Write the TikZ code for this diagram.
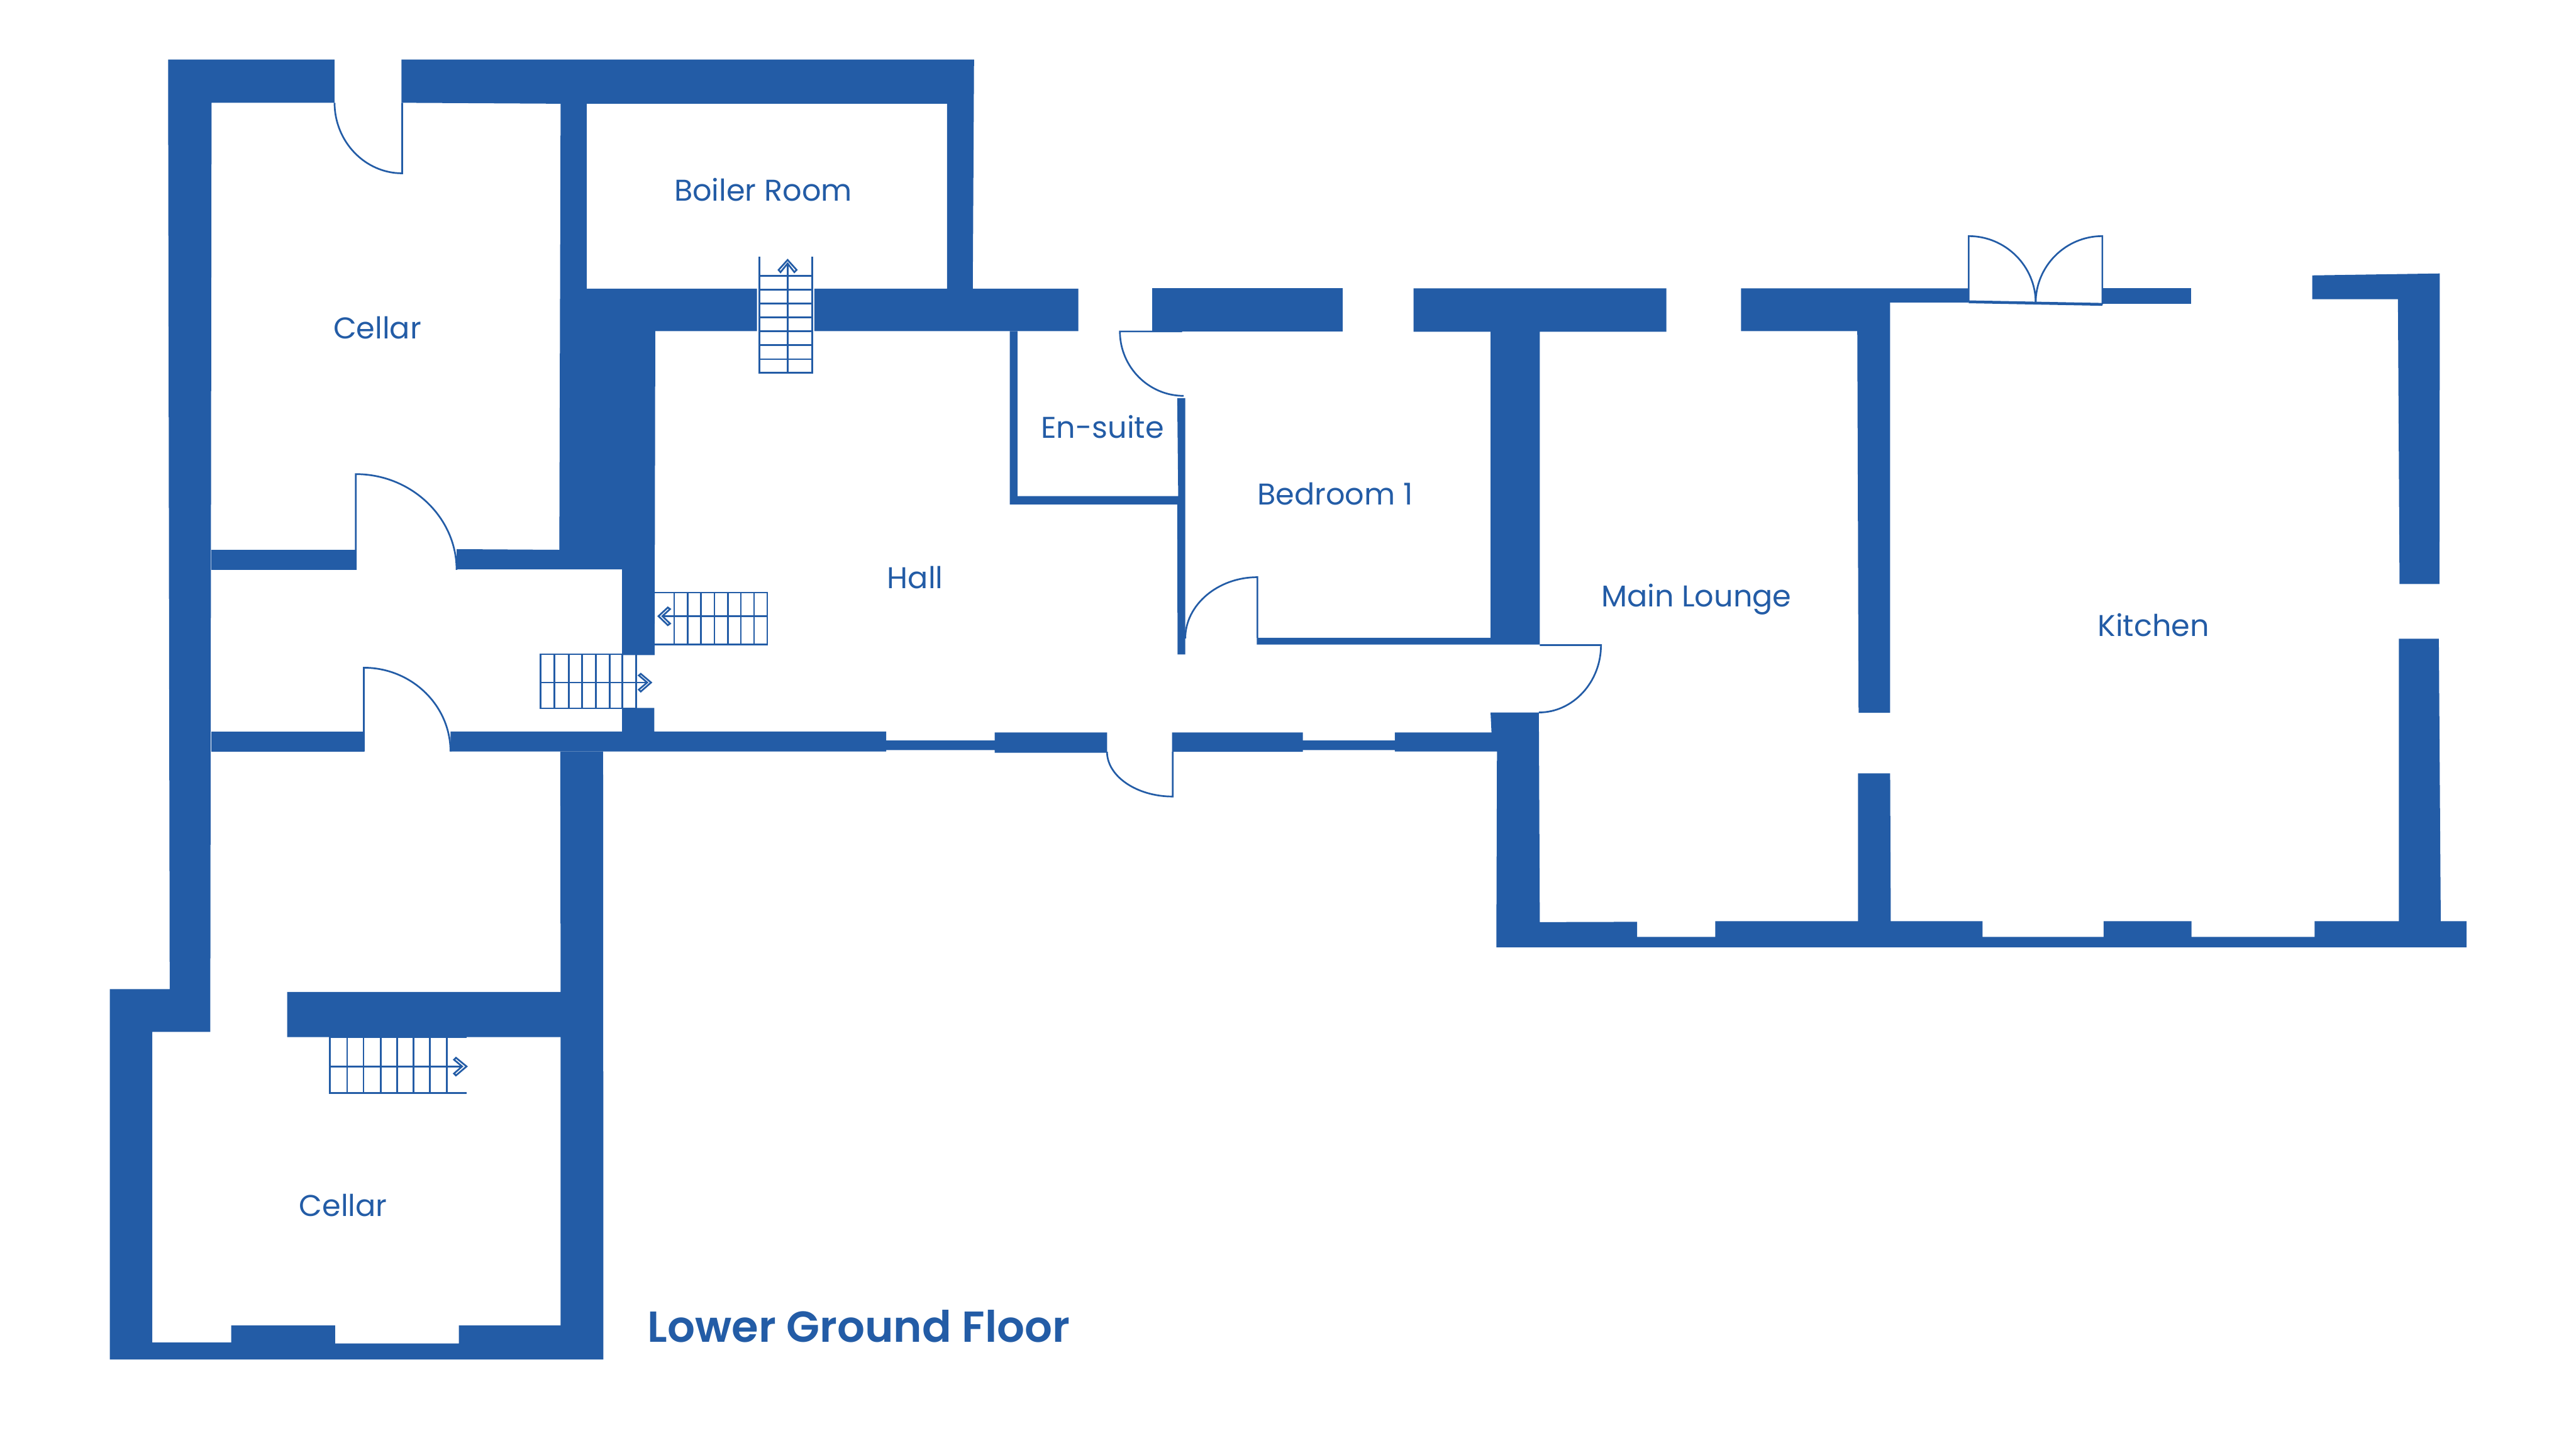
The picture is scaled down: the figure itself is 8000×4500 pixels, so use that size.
\documentclass[tikz,border=0pt]{standalone}
\usepackage{fontspec}
\setmainfont{Poppins}
\newfontfamily\titlefont{Poppins SemiBold}
\definecolor{wallblue}{RGB}{35,92,166}
\tikzset{
    wall/.style={fill=wallblue},
    doorline/.style={draw=wallblue, line width=0.3pt},
    stairline/.style={draw=wallblue, line width=0.3pt},
    roomlabel/.style={text=wallblue, font=\fontsize{5.3}{6}\selectfont, anchor=base, inner sep=0pt},
    floorlabel/.style={text=wallblue, font=\fontsize{7.66}{9}\selectfont\titlefont, anchor=base west, inner sep=0pt}
}
\begin{document}
\begin{tikzpicture}[x=0.002cm, y=-0.002cm]
    \useasboundingbox (0, 0) rectangle (8000, 4500);
    % walls
    \fill[wall] (522, 185) to (1039, 185) to (1039, 319) to (657, 319) to (653, 3204) to (473, 3204) to (473, 4168) to (718, 4168) to (718, 4115) to (1041, 4115) to (1041, 4171) to (1425, 4171) to (1425, 4115) to (1741, 4115) to (1741, 3220) to (892, 3220) to (892, 3080) to (1741, 3080) to (1740, 2333) to (1873, 2333) to (1874, 4221) to (341, 4221) to (341, 3071) to (527, 3071) -- cycle;
    \fill[wall] (1247, 185) to (3025, 185) to (3021, 896) to (3349, 896) to (3349, 1028) to (2529, 1028) to (2529, 896) to (2941, 896) to (2941, 322) to (1822, 322) to (1822, 896) to (2351, 896) to (2351, 1028) to (2035, 1028) to (2033, 2034) to (1932, 2034) to (1932, 1768) to (1418, 1768) to (1418, 1705) to (1737, 1707) to (1741, 322) to (1247, 319) -- cycle;
    \fill[wall] (656, 1707) rectangle (1106, 1769);
    \fill[wall] (656, 2271) rectangle (1131, 2333);
    \fill[wall] (1399, 2271) to (1932, 2271) to (1932, 2198) to (2032, 2198) to (2032, 2271) to (2752, 2271) to (2752, 2299) to (3089, 2299) to (3089, 2274) to (3438, 2274) to (3438, 2337) to (3089, 2337) to (3089, 2329) to (2752, 2329) to (2752, 2333) to (1399, 2333) -- cycle;
    \fill[wall] (3640, 2274) to (4046, 2274) to (4046, 2299) to (4332, 2299) to (4332, 2274) to (4632, 2274) to (4629, 2212) to (4779, 2212) to (4782, 2863) to (5084, 2862) to (5084, 2909) to (5327, 2909) to (5327, 2860) to (5770, 2860) to (5770, 2401) to (5870, 2401) to (5872, 2860) to (6157, 2860) to (6157, 2909) to (6533, 2909) to (6533, 2860) to (6806, 2860) to (6806, 2909) to (7188, 2909) to (7188, 2860) to (7450, 2860) to (7450, 1983) to (7574, 1983) to (7580, 2860) to (7660, 2860) to (7660, 2941) to (4647, 2941) to (4649, 2333) to (4332, 2333) to (4332, 2329) to (4046, 2329) to (4046, 2334) to (3640, 2334) -- cycle;
    \fill[wall] (3136, 1028) to (3160, 1028) to (3160, 1540) to (3659, 1540) to (3656, 1236) to (3681, 1236) to (3681, 2032) to (3657, 2032) to (3656, 1566) to (3136, 1566) -- cycle;
    \fill[wall] (3578, 895) rectangle (4170, 1030);
    \fill[wall] (4390, 895) to (5175, 895) to (5175, 1030) to (4782, 1030) to (4782, 2001) to (3903, 2001) to (3903, 1980) to (4629, 1980) to (4629, 1030) to (4390, 1030) -- cycle;
    \fill[wall] (5407, 895) to (6114, 895) to (6114, 939) to (5870, 939) to (5870, 2213) to (5772, 2213) to (5768, 1028) to (5407, 1028) -- cycle;
    \fill[wall] (6529, 895) rectangle (6805, 944);
    \fill[wall] (7181, 855) to (7577, 849) to (7576, 1813) to (7452, 1813) to (7447, 929) to (7181, 929) -- cycle;
    % doors
    \draw[doorline] (1039, 319) .. controls (1039, 439) and (1133, 538) .. (1249, 538) to (1249, 319);
    \draw[doorline] (1105, 1769) to (1105, 1472) .. controls (1277, 1472) and (1418, 1606) .. (1418, 1769);
    \draw[doorline] (1130, 2333) to (1130, 2073) .. controls (1278, 2073) and (1399, 2190) .. (1399, 2333);
    \draw[doorline] (3905, 1980) to (3905, 1792) .. controls (3782, 1792) and (3681, 1878) .. (3681, 1982);
    \draw[doorline] (3671, 1029) to (3478, 1029) .. controls (3478, 1139) and (3567, 1229) .. (3676, 1229);
    \draw[doorline] (3642, 2334) to (3642, 2473) .. controls (3530, 2473) and (3438, 2410) .. (3438, 2334);
    \draw[doorline] (4782, 2003) to (4972, 2003) .. controls (4972, 2118) and (4885, 2212) .. (4779, 2212);
    \draw[doorline] (6322, 940) .. controls (6322, 826) and (6228, 733) .. (6114, 733) to (6114, 937);
    \draw[doorline] (6322, 940) .. controls (6322, 826) and (6415, 733) .. (6529, 733) to (6529, 945);
    \draw[doorline, line width=0.5pt] (6114, 937) to (6529, 945);
    % stairs
    \draw[stairline] (2358, 797) to (2358, 1157) to (2523, 1157) to (2523, 797);
    \draw[stairline] (2446, 818) to (2446, 1157);
    \draw[stairline] (2358, 856) to (2523, 856) (2358, 899) to (2523, 899) (2358, 943) to (2523, 943) (2358, 985) to (2523, 985) (2358, 1028) to (2523, 1028) (2358, 1071) to (2523, 1071) (2358, 1115) to (2523, 1115);
    \draw[stairline] (2446, 807) to (2418, 838) to (2424, 845) to (2446, 818) to (2467, 845) to (2474, 838) -- cycle;
    \draw[stairline] (2032, 1840) to (2383, 1840) to (2383, 2001) to (2032, 2001);
    \draw[stairline] (2057, 1913) to (2383, 1913);
    \draw[stairline] (2094, 1840) to (2094, 2001) (2136, 1840) to (2136, 2001) (2177, 1840) to (2177, 2001) (2219, 1840) to (2219, 2001) (2261, 1840) to (2261, 2001) (2301, 1840) to (2301, 2001) (2342, 1840) to (2342, 2001);
    \draw[stairline] (2045, 1913) to (2074, 1886) to (2081, 1891) to (2057, 1913) to (2081, 1936) to (2074, 1941) -- cycle;
    \draw[stairline] (1932, 2031) to (1679, 2031) to (1679, 2199) to (1976, 2199);
    \draw[stairline] (1679, 2119) to (2010, 2119);
    \draw[stairline] (1721, 2031) to (1721, 2199) (1766, 2031) to (1766, 2199) (1808, 2031) to (1808, 2199) (1850, 2031) to (1850, 2199) (1893, 2031) to (1893, 2199) (1932, 2031) to (1932, 2199) (1976, 2034) to (1976, 2199);
    \draw[stairline] (2022, 2119) to (1990, 2092) to (1984, 2097) to (2010, 2119) to (1984, 2141) to (1990, 2147) -- cycle;
    \draw[stairline] (1449, 3220) to (1025, 3220) to (1025, 3393) to (1449, 3393);
    \draw[stairline] (1025, 3311) to (1435, 3311);
    \draw[stairline] (1078, 3220) to (1078, 3393) (1129, 3220) to (1129, 3393) (1182, 3220) to (1182, 3393) (1233, 3220) to (1233, 3393) (1284, 3220) to (1284, 3393) (1335, 3220) to (1335, 3393) (1388, 3220) to (1388, 3393);
    \draw[stairline] (1449, 3311) to (1416, 3284) to (1410, 3290) to (1435, 3311) to (1410, 3333) to (1416, 3339) -- cycle;
    % labels
    \node[roomlabel] (boilerroom) at (2370, 624) {Boiler Room};
    \node[roomlabel] (uppercellar) at (1172, 1052) {Cellar};
    \node[roomlabel] (ensuite) at (3424, 1360) {En-suite};
    \node[roomlabel] (hall) at (2842, 1827) {Hall};
    \node[roomlabel] (bedroom) at (4146, 1567) {Bedroom 1};
    \node[roomlabel] (mainlounge) at (5268, 1883) {Main Lounge};
    \node[roomlabel] (kitchen) at (6688, 1976) {Kitchen};
    \node[roomlabel] (lowercellar) at (1066, 3777) {Cellar};
    \node[floorlabel] (floortitle) at (2008, 4166) {Lower Ground Floor};
\end{tikzpicture}
\end{document}
